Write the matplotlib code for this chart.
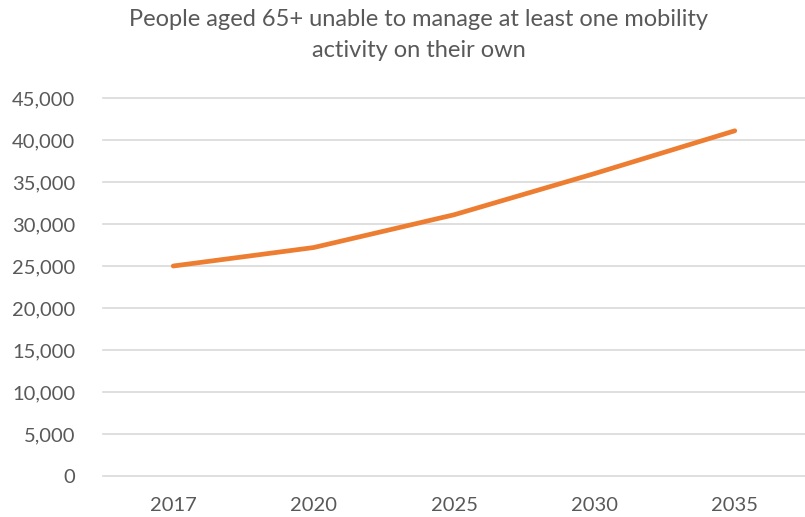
import matplotlib
matplotlib.use("Agg")
import matplotlib.pyplot as plt
from matplotlib.ticker import FuncFormatter

years = ["2017", "2020", "2025", "2030", "2035"]
people = [25000, 27200, 31100, 36000, 41100]
y_ticks = list(range(0, 45001, 5000))

plt.rcParams['font.family'] = ['Lato', 'DejaVu Sans']
text_color = "#595959"

fig = plt.figure(figsize=(8.05, 5.17), dpi=100)
ax = fig.add_axes([0.128, 0.0793, 0.872, 0.7311])

x = list(range(len(years)))
ax.plot(x, people, color="#ED7D31", linewidth=3.4, solid_capstyle="round",
        solid_joinstyle="round", zorder=3)

ax.set_xlim(-0.5, len(years) - 0.5)
ax.set_ylim(0, 45000)
ax.set_yticks(y_ticks)
ax.yaxis.set_major_formatter(FuncFormatter(lambda v, p: f"{int(v):,}"))
ax.set_xticks(x)
ax.set_xticklabels(years)

ax.grid(axis="y", color="#D9D9D9", linewidth=1.2, zorder=0)
for gl in ax.get_ygridlines():
    gl.set_clip_on(False)
ax.set_axisbelow(True)
for s in ax.spines.values():
    s.set_visible(False)
ax.tick_params(axis="both", length=0, labelsize=14.5, colors=text_color)
ax.tick_params(axis="y", pad=20)
ax.tick_params(axis="x", pad=15)

fig.text(0.52, 0.962, "People aged 65+ unable to manage at least one mobility",
         ha="center", va="center", fontsize=17, color=text_color)
fig.text(0.52, 0.903, "activity on their own",
         ha="center", va="center", fontsize=17, color=text_color)

fig.savefig("out.png", dpi=100)
